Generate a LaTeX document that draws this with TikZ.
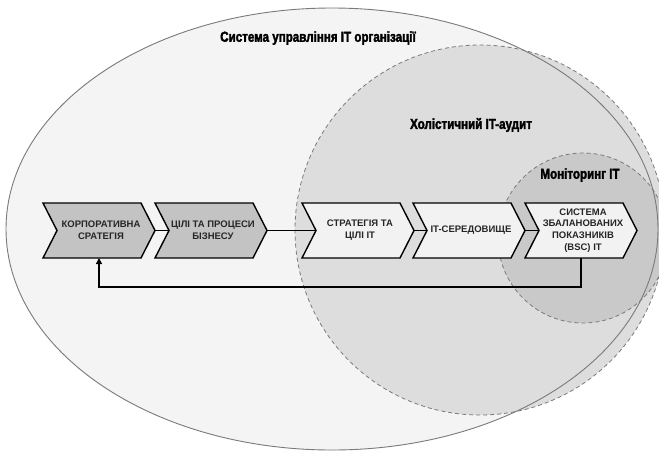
\documentclass[tikz,border=0pt]{standalone}
\usepackage{fontspec}
\setmainfont{Liberation Sans}
\newfontfamily\titlefont[FakeStretch=0.8,BoldFeatures={FakeBold=2.2}]{Liberation Sans}
\usetikzlibrary{arrows.meta}
\definecolor{outerfill}{HTML}{F4F4F4}
\definecolor{holfill}{HTML}{DDDDDD}
\definecolor{monfill}{HTML}{C9C9C9}
\definecolor{darkchev}{HTML}{C3C3C3}
\definecolor{lightchev}{HTML}{F2F2F2}
\definecolor{rimgray}{HTML}{7A7A7A}
\tikzset{
  chevbox/.style={draw=black, line width=1.4pt, line join=miter},
  chevtext/.style={font=\bfseries\fontsize{9.5}{11.8}\selectfont, align=center, text=black!85},
  titletext/.style={font=\titlefont\bfseries\fontsize{14.5}{16}\selectfont},
  dashrim/.style={draw=rimgray, line width=0.8pt, dash pattern=on 4pt off 3pt},
  flow/.style={draw=black, line width=1.2pt},
}
% #1 name, #2 left x, #3 fill, #4 text
\newcommand{\chevron}[4]{%
  \path[chevbox, fill=#3] (#2,203) -- ++(98,0) -- ++(14,27.5) -- ++(-14,27.5) -- ++(-98,0) -- ++(14,-27.5) -- cycle;
  \coordinate (#1tip) at ({#2+112},230.5);
  \coordinate (#1notch) at ({#2+14},230.5);
  \coordinate (#1bot) at ({#2+56},258);
  \node[chevtext] (#1) at ({#2+58},230.5) {#4};
}
\begin{document}
\begin{tikzpicture}[x=1pt,y=-1pt]
\useasboundingbox (0,0) rectangle (659,451);
\clip (0,0) rectangle (659,451);
\fill[white] (0,0) rectangle (659,451);
% outer ellipse
\path[fill=outerfill] (332,229) ellipse [x radius=326pt, y radius=221pt];
% holistic circle
\path[fill=holfill, dashrim] (480,230) circle [radius=185pt];
% monitoring circle
\path[fill=monfill, dashrim] (583,238) circle [radius=85pt];
% outer rim on top
\draw[rimgray, line width=0.9pt] (332,229) ellipse [x radius=326pt, y radius=221pt];
% titles
\node[titletext] (t1) at (318,38) {Система управління IT організації};
\node[titletext] (t2) at (471,125) {Холістичний IT-аудит};
\node[titletext] (t3) at (580,175) {Моніторинг IT};
% chevrons
\chevron{c1}{43}{darkchev}{КОРПОРАТИВНА\\СРАТЕГІЯ}
\chevron{c2}{155}{darkchev}{ЦІЛІ ТА ПРОЦЕСИ\\БІЗНЕСУ}
\chevron{c3}{302}{lightchev}{СТРАТЕГІЯ ТА\\ЦІЛІ IT}
\chevron{c4}{413}{lightchev}{IT-СЕРЕДОВИЩЕ}
\chevron{c5}{525}{lightchev}{СИСТЕМА\\ЗБАЛАНОВАНИХ\\ПОКАЗНИКІВ\\(BSC) IT}
% connectors
\draw[flow, line width=1pt] (c1tip) -- (c2notch);
\draw[flow, line width=1pt] (c2tip) -- (c3notch);
\draw[flow, line width=1pt] (c3tip) -- (c4notch);
\draw[flow, line width=1pt] (c4tip) -- (c5notch);
\coordinate (fbstart) at (581,258);
\coordinate (fbend) at (99,258);
\draw[flow, -{Triangle[length=6pt,width=6pt]}] (fbstart) -- (581,287) -- (99,287) -- (fbend);
\end{tikzpicture}
\end{document}
